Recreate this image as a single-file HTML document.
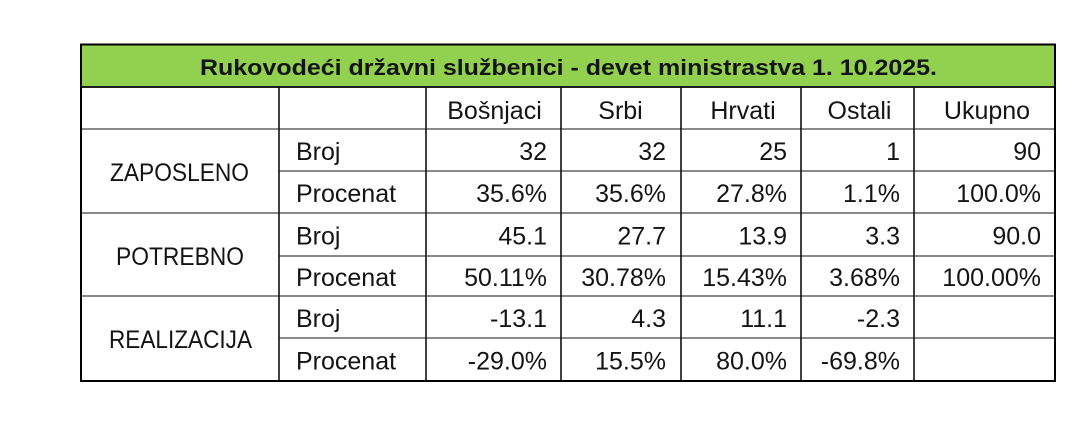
<!DOCTYPE html>
<html>
<head>
<meta charset="utf-8">
<style>
  html, body { margin: 0; padding: 0; background: #ffffff; }
  body { width: 1080px; height: 440px; overflow: hidden; }
  svg { display: block; }
  text { font-family: "Liberation Sans", "DejaVu Sans", sans-serif; fill: #141414; }
</style>
</head>
<body>
<svg width="1080" height="440" viewBox="0 0 1080 440" xmlns="http://www.w3.org/2000/svg">
  <rect x="0" y="0" width="1080" height="440" fill="#ffffff"/>
  <!-- green title bar -->
  <rect x="81" y="45" width="973" height="42" fill="#92d050"/>

  <!-- horizontal internal lines (gray) -->
  <g stroke="#8a8a8a" stroke-width="2">
    <line x1="80" y1="129" x2="1055" y2="129"/>
    <line x1="279" y1="171" x2="1055" y2="171"/>
    <line x1="80" y1="213" x2="1055" y2="213"/>
    <line x1="279" y1="256" x2="1055" y2="256"/>
    <line x1="80" y1="296" x2="1055" y2="296"/>
    <line x1="279" y1="338" x2="1055" y2="338"/>
  </g>
  <!-- header bottom line -->
  <line x1="80" y1="87" x2="1055" y2="87" stroke="#1e1e1e" stroke-width="2"/>

  <!-- vertical internal lines -->
  <g stroke="#111" stroke-width="1.6">
    <line x1="279" y1="87" x2="279" y2="381"/>
    <line x1="426" y1="87" x2="426" y2="381"/>
    <line x1="561" y1="87" x2="561" y2="381"/>
    <line x1="681" y1="87" x2="681" y2="381"/>
    <line x1="801" y1="87" x2="801" y2="381"/>
    <line x1="914" y1="87" x2="914" y2="381"/>
  </g>

  <!-- outer border -->
  <rect x="81" y="44.5" width="974" height="336.5" fill="none" stroke="#000" stroke-width="2"/>

  <!-- title -->
  <text x="568.5" y="75" text-anchor="middle" font-weight="bold" font-size="22" textLength="737" lengthAdjust="spacingAndGlyphs">Rukovodeći državni službenici - devet ministrastva 1. 10.2025.</text>

  <!-- header row -->
  <g font-size="25" text-anchor="middle">
    <text x="494.5" y="119">Bošnjaci</text>
    <text x="620.5" y="119">Srbi</text>
    <text x="743" y="119">Hrvati</text>
    <text x="859.5" y="119">Ostali</text>
    <text x="987" y="119">Ukupno</text>
  </g>

  <!-- group labels -->
  <g font-size="25" text-anchor="middle">
    <text x="179.5" y="181" textLength="139" lengthAdjust="spacingAndGlyphs">ZAPOSLENO</text>
    <text x="180" y="265" textLength="128" lengthAdjust="spacingAndGlyphs">POTREBNO</text>
    <text x="180.5" y="348" textLength="143" lengthAdjust="spacingAndGlyphs">REALIZACIJA</text>
  </g>

  <!-- row labels -->
  <g font-size="25">
    <text x="296" y="160">Broj</text>
    <text x="296" y="202">Procenat</text>
    <text x="296" y="244.5">Broj</text>
    <text x="296" y="286">Procenat</text>
    <text x="296" y="327">Broj</text>
    <text x="296" y="369.5">Procenat</text>
  </g>

  <!-- values -->
  <g font-size="25" text-anchor="end">
    <!-- ZAPOSLENO Broj -->
    <text x="547" y="160">32</text>
    <text x="666" y="160">32</text>
    <text x="787" y="160">25</text>
    <text x="900" y="160">1</text>
    <text x="1041" y="160">90</text>
    <!-- ZAPOSLENO Procenat -->
    <text x="547" y="202">35.6%</text>
    <text x="666" y="202">35.6%</text>
    <text x="787" y="202">27.8%</text>
    <text x="900" y="202">1.1%</text>
    <text x="1041" y="202">100.0%</text>
    <!-- POTREBNO Broj -->
    <text x="547" y="244.5">45.1</text>
    <text x="666" y="244.5">27.7</text>
    <text x="787" y="244.5">13.9</text>
    <text x="900" y="244.5">3.3</text>
    <text x="1041" y="244.5">90.0</text>
    <!-- POTREBNO Procenat -->
    <text x="547" y="286">50.11%</text>
    <text x="666" y="286">30.78%</text>
    <text x="787" y="286">15.43%</text>
    <text x="900" y="286">3.68%</text>
    <text x="1041" y="286">100.00%</text>
    <!-- REALIZACIJA Broj -->
    <text x="547" y="327">-13.1</text>
    <text x="666" y="327">4.3</text>
    <text x="787" y="327">11.1</text>
    <text x="900" y="327">-2.3</text>
    <!-- REALIZACIJA Procenat -->
    <text x="547" y="369.5">-29.0%</text>
    <text x="666" y="369.5">15.5%</text>
    <text x="787" y="369.5">80.0%</text>
    <text x="900" y="369.5">-69.8%</text>
  </g>
</svg>
</body>
</html>
